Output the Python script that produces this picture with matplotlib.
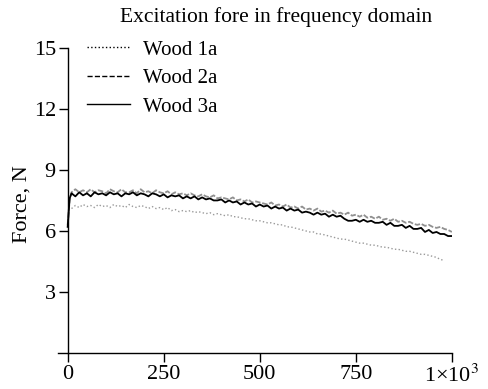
"""
Excitation force in frequency domain: three wood samples
"""

import matplotlib
matplotlib.use("Agg")
import matplotlib.pyplot as plt
from matplotlib.lines import Line2D

# --- data ---
freq_3a = [0, 5, 10, 20, 30, 40, 50, 60, 70, 80, 90, 100, 110, 120, 130, 140, 150, 160, 170, 180, 190,
           200, 210, 220, 230, 240, 250, 260, 270, 280, 290, 300, 310, 320, 330, 340, 350, 360, 370, 380, 390,
           400, 410, 420, 430, 440, 450, 460, 470, 480, 490, 500, 510, 520, 530, 540, 550, 560, 570, 580, 590,
           600, 610, 620, 630, 640, 650, 660, 670, 680, 690, 700, 710, 720, 730, 740, 750, 760, 770, 780, 790,
           800, 810, 820, 830, 840, 850, 860, 870, 880, 890, 900, 910, 920, 930, 940, 950, 960, 970, 980, 990, 1000]
force_3a = [6.2, 7.6, 7.85, 7.7, 7.9, 7.75, 7.85, 7.7, 7.9, 7.8, 7.85, 7.75, 7.9, 7.8, 7.85, 7.7, 7.85, 7.8, 7.9, 7.75, 7.85,
            7.8, 7.7, 7.85, 7.8, 7.7, 7.8, 7.65, 7.75, 7.7, 7.75, 7.6, 7.7, 7.6, 7.7, 7.55, 7.65, 7.55, 7.6, 7.5, 7.5,
            7.55, 7.4, 7.5, 7.4, 7.45, 7.3, 7.4, 7.3, 7.35, 7.2, 7.3, 7.2, 7.25, 7.1, 7.2, 7.1, 7.15, 7.0, 7.1, 7.0,
            7.05, 6.9, 6.95, 6.9, 6.8, 6.9, 6.8, 6.85, 6.7, 6.8, 6.7, 6.75, 6.6, 6.5, 6.5, 6.55, 6.45, 6.55, 6.45, 6.5,
            6.4, 6.4, 6.45, 6.3, 6.4, 6.25, 6.25, 6.3, 6.15, 6.25, 6.1, 6.1, 6.15, 5.95, 6.05, 5.9, 5.95, 5.85, 5.85, 5.75, 5.75]

freq_2a = freq_3a
force_2a = [6.3, 7.5, 7.9, 8.05, 7.9, 8.0, 7.9, 8.05, 7.9, 8.0, 7.95, 7.85, 8.05, 7.95, 7.9, 8.05, 7.9, 7.9, 8.0, 7.85, 8.05,
            7.9, 7.95, 7.85, 8.0, 7.9, 7.85, 7.95, 7.8, 7.9, 7.8, 7.85, 7.75, 7.85, 7.75, 7.7, 7.8, 7.7, 7.65, 7.75, 7.6,
            7.65, 7.6, 7.55, 7.65, 7.5, 7.55, 7.45, 7.55, 7.4, 7.45, 7.4, 7.35, 7.3, 7.4, 7.25, 7.3, 7.2, 7.3, 7.15, 7.2,
            7.1, 7.2, 7.05, 7.1, 7.0, 7.1, 6.95, 7.0, 6.9, 7.0, 6.85, 6.9, 6.8, 6.9, 6.75, 6.8, 6.7, 6.8, 6.65, 6.7,
            6.6, 6.7, 6.55, 6.6, 6.5, 6.6, 6.45, 6.5, 6.4, 6.45, 6.35, 6.3, 6.35, 6.25, 6.3, 6.2, 6.15, 6.2, 6.1, 6.05, 5.95]

freq_1a = [10, 20, 30, 40, 50, 60, 70, 80, 90, 100, 110, 120, 130, 140, 150, 160, 170, 180, 190,
           200, 210, 220, 230, 240, 250, 260, 270, 280, 290, 300, 310, 320, 330, 340, 350, 360, 370, 380, 390,
           400, 410, 420, 430, 440, 450, 460, 470, 480, 490, 500, 510, 520, 530, 540, 550, 560, 570, 580, 590,
           600, 610, 620, 630, 640, 650, 660, 670, 680, 690, 700, 710, 720, 730, 740, 750, 760, 770, 780, 790,
           800, 810, 820, 830, 840, 850, 860, 870, 880, 890, 900, 910, 920, 930, 940, 950, 960, 970, 980]
force_1a = [7.1, 7.25, 7.15, 7.3, 7.2, 7.25, 7.15, 7.3, 7.2, 7.25, 7.15, 7.3, 7.2, 7.25, 7.15, 7.3, 7.2, 7.15, 7.25,
            7.2, 7.1, 7.2, 7.1, 7.15, 7.05, 7.15, 7.0, 7.05, 6.95, 7.0, 6.95, 7.0, 6.9, 6.95, 6.9, 6.85, 6.9, 6.8, 6.85,
            6.8, 6.75, 6.8, 6.7, 6.7, 6.65, 6.6, 6.6, 6.55, 6.5, 6.5, 6.45, 6.4, 6.4, 6.35, 6.3, 6.3, 6.2, 6.2, 6.15,
            6.1, 6.05, 6.0, 5.95, 5.95, 5.85, 5.85, 5.8, 5.75, 5.7, 5.65, 5.6, 5.6, 5.55, 5.5, 5.45, 5.4, 5.4, 5.35, 5.3,
            5.3, 5.25, 5.2, 5.2, 5.15, 5.1, 5.1, 5.05, 5.0, 5.0, 4.95, 4.9, 4.85, 4.85, 4.8, 4.75, 4.7, 4.6, 4.55]

x_ticks = [0, 250, 500, 750, 1000]
x_tick_labels = ["0", "250", "500", "750", r"1×10$^3$"]
y_ticks = [3, 6, 9, 12, 15]
labels = ["Wood 1a", "Wood 2a", "Wood 3a"]

plt.rcParams["font.family"] = ["Liberation Serif", "DejaVu Serif"]
plt.rcParams["mathtext.fontset"] = "stix"

fig = plt.figure(figsize=(4.88, 3.89), dpi=100)
ax = fig.add_axes([0.119, 0.0925, 0.807, 0.7845])

# --- curves ---
ax.plot(freq_1a, force_1a, color="#9a9a9a", linewidth=1.0, linestyle=":")
ax.plot(freq_2a, force_2a, color="#909090", linewidth=1.3, linestyle=(0, (3, 1)))
ax.plot(freq_3a, force_3a, color="black", linewidth=1.3)

ax.set_xlim(-25, 1000)
ax.set_ylim(0, 15)

# --- axes styling ---
ax.spines["top"].set_visible(False)
ax.spines["right"].set_visible(False)
ax.spines["left"].set_position(("data", 0))
ax.spines["left"].set_linewidth(1.0)
ax.spines["bottom"].set_linewidth(1.0)

ax.set_xticks(x_ticks)
ax.set_xticklabels(x_tick_labels)
ax.set_yticks(y_ticks)
ax.tick_params(direction="out", length=6.5, width=1.0, labelsize=16, pad=2, colors="black")

# --- title / label ---
fig.text(0.566, 0.956, "Excitation fore in frequency domain", ha="center", va="center", fontsize=15.5)
fig.text(0.045, 0.476, "Force, N", ha="center", va="center", rotation=90, fontsize=16)

# --- legend (black sample lines) ---
legend_elements = [
    Line2D([0], [0], color="black", linewidth=1.0, linestyle=":", label=labels[0]),
    Line2D([0], [0], color="black", linewidth=1.0, linestyle="--", label=labels[1]),
    Line2D([0], [0], color="black", linewidth=1.0, linestyle="-", label=labels[2]),
]
fig.legend(handles=legend_elements, loc="upper left", bbox_to_anchor=(0.178, 0.897),
           bbox_transform=fig.transFigure, frameon=False, fontsize=15,
           handlelength=2.07, handletextpad=0.62, labelspacing=0.43, borderpad=0, borderaxespad=0)

plt.savefig("out.png", dpi=100)
plt.close()
